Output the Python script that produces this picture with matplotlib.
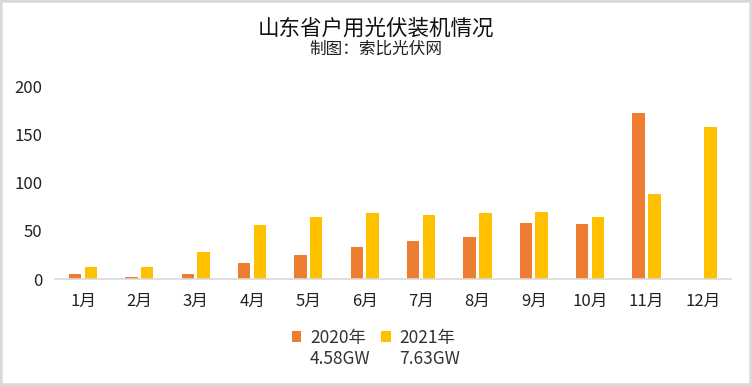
import matplotlib
matplotlib.use('Agg')
import matplotlib.pyplot as plt
import numpy as np
from matplotlib.patches import Rectangle
from matplotlib.legend_handler import HandlerPatch

plt.rcParams['font.family'] = ['Noto Sans CJK SC', 'DejaVu Sans']

months = ['1月', '2月', '3月', '4月', '5月', '6月', '7月', '8月', '9月', '10月', '11月', '12月']
values_2020 = [5, 2, 5, 17, 25, 33, 39, 44, 58, 57, 172, 0]
values_2021 = [12, 13, 28, 56, 64, 68, 66, 68, 70, 64, 88, 158]
label_2020 = '2020年\n4.58GW'
label_2021 = '2021年\n7.63GW'

fig = plt.figure(figsize=(7.52, 3.86), dpi=100)
ax = fig.add_axes([0.073, 0.277, 0.899, 0.5])

x = np.arange(len(months))
w = 0.22
b1 = ax.bar(x - 0.14, values_2020, w, color='#ED7D31')
b2 = ax.bar(x + 0.14, values_2021, w, color='#FFC000')

ax.set_xlim(-0.5, len(months) - 0.5)
ax.set_ylim(0, 200)
ax.set_yticks([0, 50, 100, 150, 200])
ax.set_xticks(x)
ax.set_xticklabels(months)
ax.tick_params(axis='both', length=0, labelsize=12, colors='#222222')
ax.tick_params(axis='x', pad=10)
ax.tick_params(axis='y', pad=9)
for s in ['top', 'right', 'left']:
    ax.spines[s].set_visible(False)
ax.spines['bottom'].set_color('#d9d9d9')
ax.spines['bottom'].set_linewidth(1.2)

fig.text(0.5, 0.925, '山东省户用光伏装机情况', ha='center', va='center', fontsize=15.5, color='#111111')
fig.text(0.5, 0.872, '制图：索比光伏网', ha='center', va='center', fontsize=12, color='#222222')


# square marker next to the first line of the two-line label
def top_square(legend, orig_handle, xdescent, ydescent, width, height, fontsize):
    return Rectangle((-xdescent, -ydescent + 0.75 * fontsize), width, height)


h1, h2 = b1.patches[0], b2.patches[0]
fig.legend([h1, h2], [label_2020, label_2021], loc='center', bbox_to_anchor=(0.5, 0.097),
           ncol=2, frameon=False, fontsize=12.5, handlelength=0.55, handleheight=0.55,
           handletextpad=0.5, columnspacing=0.6, labelcolor='#333333',
           handler_map={h1: HandlerPatch(patch_func=top_square),
                        h2: HandlerPatch(patch_func=top_square)})

fig.patches.append(Rectangle((0, 0), 1, 1, transform=fig.transFigure, fill=False,
                             edgecolor='#d9d9d9', linewidth=4, zorder=10))

fig.savefig('out.png', dpi=100)
